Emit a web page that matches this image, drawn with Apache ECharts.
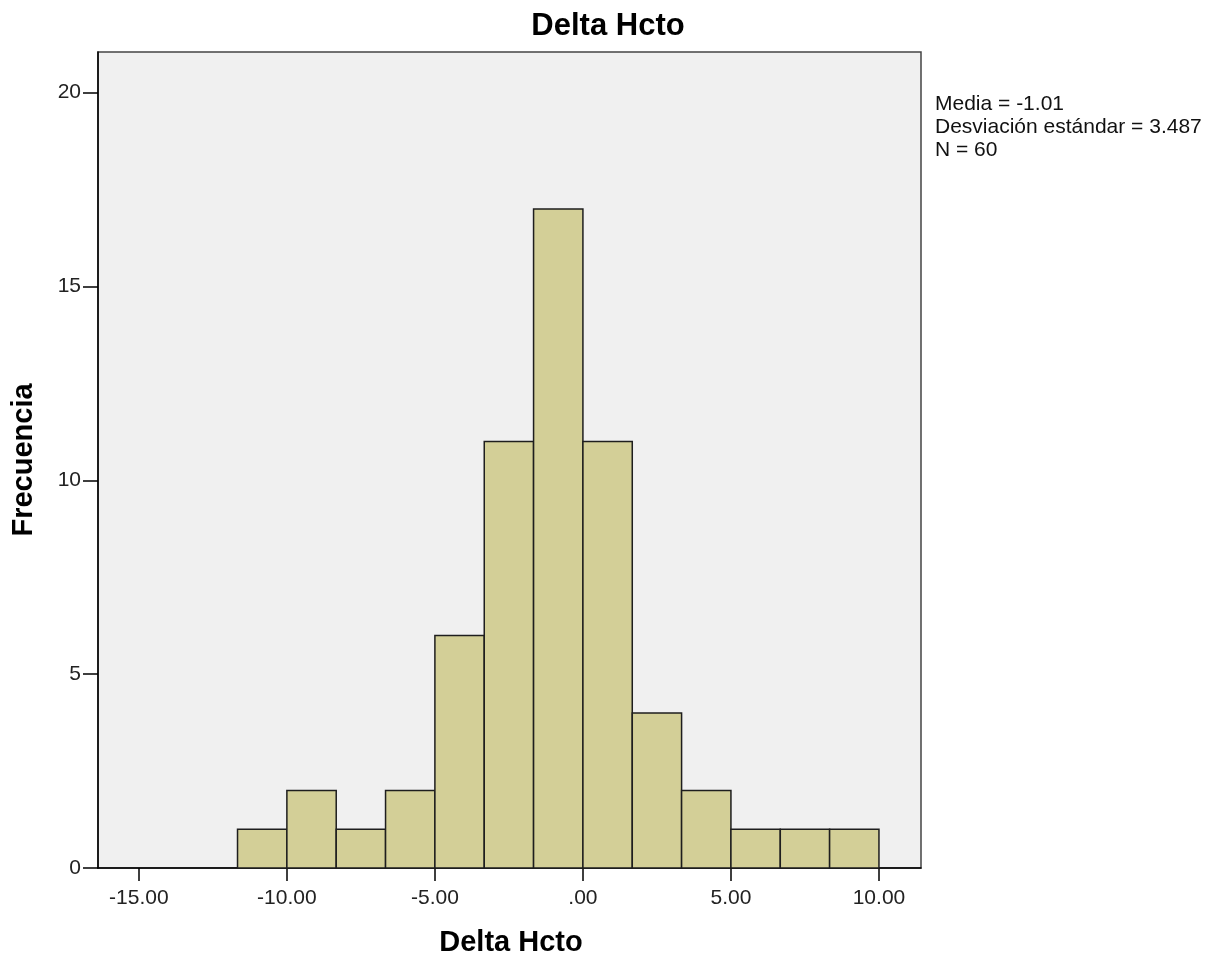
<!DOCTYPE html>
<html>
<head>
<meta charset="utf-8">
<script src="https://cdn.jsdelivr.net/npm/echarts@6/dist/echarts.min.js"></script>
<style>
  html, body { margin: 0; padding: 0; background: #fff; }
  #chart { width: 1229px; height: 960px; }
</style>
</head>
<body>
<div id="chart"></div>
<script>
// histogram bins (Delta Hcto), bin width 5/3
const binLower = [-11.667, -10, -8.333, -6.667, -5, -3.333, -1.667, 0, 1.667, 3.333, 5, 6.667, 8.333];
const binUpper = [-10, -8.333, -6.667, -5, -3.333, -1.667, 0, 1.667, 3.333, 5, 6.667, 8.333, 10];
const counts = [1, 2, 1, 2, 6, 11, 17, 11, 4, 2, 1, 1, 1];

const xTicks = [-15, -10, -5, 0, 5, 10];
const yTicks = [0, 5, 10, 15, 20];
const statsLines = ["Media = -1.01", "Desviación estándar = 3.487", "N = 60"];

const FONT = "'Liberation Sans', Arial, sans-serif";

const chart = echarts.init(document.getElementById("chart"));

const data = counts.map((c, i) => [binLower[i], binUpper[i], c]);

// x label like SPSS: ".00" for zero
const fmtX = (v) => {
  const s = Number(v).toFixed(2);
  return s === "0.00" ? ".00" : s;
};

chart.setOption({
  animation: false,
  backgroundColor: "#fff",
  grid: {
    left: 98, right: 308, top: 52, bottom: 92,
    show: true,
    backgroundColor: "#f0f0f0",
    borderColor: "#444",
    borderWidth: 1.5,
  },
  xAxis: {
    type: "value",
    min: -16.38,
    max: 11.42,
    axisLine: { onZero: false, lineStyle: { color: "#000", width: 1.5 } },
    axisTick: { show: true, length: 13, customValues: xTicks, lineStyle: { color: "#000", width: 1.5 } },
    axisLabel: {
      customValues: xTicks,
      formatter: fmtX,
      color: "#222",
      fontFamily: FONT,
      fontSize: 21,
      margin: 20,
    },
    splitLine: { show: false },
  },
  yAxis: {
    type: "value",
    min: 0,
    max: 21.05,
    axisLine: { show: true, onZero: false, lineStyle: { color: "#000", width: 1.5 } },
    axisTick: { show: true, length: 15, customValues: yTicks, lineStyle: { color: "#000", width: 1.5 } },
    axisLabel: {
      customValues: yTicks,
      color: "#222",
      fontFamily: FONT,
      fontSize: 21,
      margin: 17,
    },
    splitLine: { show: false },
  },
  series: [
    {
      type: "custom",
      data: data,
      renderItem: (params, api) => {
        const p0 = api.coord([api.value(0), 0]);
        const p1 = api.coord([api.value(1), api.value(2)]);
        return {
          type: "rect",
          shape: { x: p0[0], y: p1[1], width: p1[0] - p0[0], height: p0[1] - p1[1] },
          style: { fill: "#d3cf97", stroke: "#1e1e1e", lineWidth: 1.5 },
        };
      },
      encode: { x: [0, 1], y: 2 },
    },
  ],
  graphic: [
    {
      type: "text",
      x: 608, y: 26,
      style: {
        text: "Delta Hcto",
        font: "bold 31px " + FONT,
        fill: "#000",
        textAlign: "center",
        textVerticalAlign: "middle",
      },
    },
    {
      type: "text",
      x: 511, y: 943,
      style: {
        text: "Delta Hcto",
        font: "bold 29px " + FONT,
        fill: "#000",
        textAlign: "center",
        textVerticalAlign: "middle",
      },
    },
    {
      type: "text",
      x: 24, y: 460,
      rotation: Math.PI / 2,
      style: {
        text: "Frecuencia",
        font: "bold 29px " + FONT,
        fill: "#000",
        textAlign: "center",
        textVerticalAlign: "middle",
      },
    },
    {
      type: "text",
      x: 935, y: 93,
      style: {
        text: statsLines.join("\n"),
        font: "21px " + FONT,
        lineHeight: 23,
        fill: "#111",
        textAlign: "left",
        textVerticalAlign: "top",
      },
    },
  ],
});
</script>
</body>
</html>
